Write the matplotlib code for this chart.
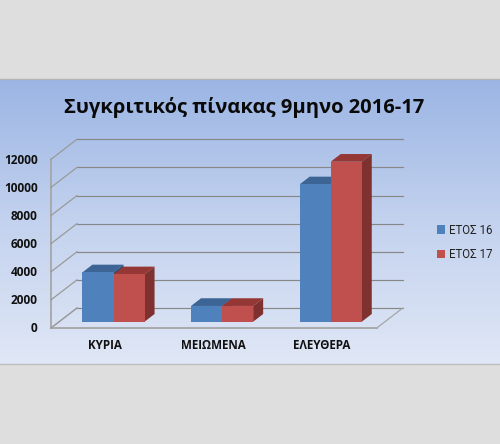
import matplotlib
matplotlib.use('Agg')
import matplotlib.pyplot as plt
from matplotlib.colors import LinearSegmentedColormap
from matplotlib.patches import Polygon
from matplotlib.transforms import Affine2D
import numpy as np

plt.rcParams['font.family'] = ['Open Sans', 'Noto Sans', 'DejaVu Sans']

title = 'Συγκριτικός πίνακας 9μηνο 2016-17'
categories = ['ΚΥΡΙΑ', 'ΜΕΙΩΜΕΝΑ', 'ΕΛΕΥΘΕΡΑ']
etos_16 = [3510, 1120, 9770]
etos_17 = [3370, 1120, 11380]
y_ticks = [0, 2000, 4000, 6000, 8000, 10000, 12000]

W, H = 500, 444
fig = plt.figure(figsize=(W / 100, H / 100), dpi=100, facecolor='#dedede')

# slide band with the vertical gradient
bg = fig.add_axes([0, (H - 364) / H, 1, (364 - 79) / H])
cmap = LinearSegmentedColormap.from_list('band', ['#9bb5e4', '#c3d2ee', '#e0e7f6'])
bg.imshow(np.linspace(0, 1, 256).reshape(-1, 1), aspect='auto', cmap=cmap)
bg.axis('off')
fig.add_artist(plt.Line2D([0, 1], [(H - 79) / H] * 2, color='#b4b4b4', lw=1.0))
fig.add_artist(plt.Line2D([0, 1], [(H - 364) / H] * 2, color='#bdbdbd', lw=1.0))

# axes sits on the plane of the bar fronts, walls are offset from it
ax = fig.add_axes([59.2 / W, (H - 321.7) / H, 325.8 / W, 168.7 / H])
ax.set_xlim(-0.5, 2.5)
ax.set_ylim(0, 12000)
ax.axis('off')


def shifted(dx, dy):
    return ax.transData + Affine2D().translate(dx, dy)


front = shifted(-8.2, -6.3)
back = shifted(17.8, 13.7)
bar_depth = shifted(10, 7.7)
grid_color = '#878787'

# floor
ax.plot([-0.5, 2.5], [0, 0], transform=front, color='#a6a6a6', lw=1.3, clip_on=False, zorder=1)
for x in [-0.5, 2.5]:
    p0 = front.transform((x, 0))
    p1 = back.transform((x, 0))
    fig.add_artist(plt.Line2D([p0[0] / W, p1[0] / W], [p0[1] / H, p1[1] / H],
                              color='#a6a6a6', lw=0.9))

# gridlines on back wall and side wall
for t in y_ticks:
    ax.plot([-0.5, 2.5], [t, t], transform=back, color=grid_color, lw=0.85, clip_on=False, zorder=1)
    p0 = front.transform((-0.5, t))
    p1 = back.transform((-0.5, t))
    fig.add_artist(plt.Line2D([p0[0] / W, p1[0] / W], [p0[1] / H, p1[1] / H],
                              color='#9a9a9a', lw=0.9))
    ax.text(-0.5, t, str(t), transform=shifted(-21.5, -7.3), ha='right', va='center',
            fontsize=8.6, fontweight='bold', color='#111111', clip_on=False)
ax.plot([-0.5, -0.5], [0, 12000], transform=front, color='#a6a6a6', lw=1.3, clip_on=False, zorder=1)

x = np.arange(len(categories))
bar_w = 0.286


def depth_faces(left, value, top_color, side_color, z):
    right = left + bar_w
    pts_top = [(left, value), (right, value)]
    p = ax.transData.transform(pts_top)
    p2 = bar_depth.transform(pts_top)
    inv = ax.transData.inverted()
    top = inv.transform([p[0], p[1], p2[1], p2[0]])
    bottom = ax.transData.transform((right, 0))
    bottom2 = bar_depth.transform((right, 0))
    side = inv.transform([p[1], p2[1], bottom2, bottom])
    ax.add_patch(Polygon(top, closed=True, fc=top_color, ec='none', zorder=z, clip_on=False))
    ax.add_patch(Polygon(side, closed=True, fc=side_color, ec='none', zorder=z, clip_on=False))


for i in x:
    depth_faces(i - bar_w, etos_16[i], '#3c6494', '#2f4f75', 2)
    depth_faces(i, etos_17[i], '#943735', '#7e312f', 3)

b16 = ax.bar(x - bar_w / 2, etos_16, bar_w, color='#4f81bd', zorder=4, label='ΕΤΟΣ 16')
b17 = ax.bar(x + bar_w / 2, etos_17, bar_w, color='#c0504d', zorder=5, label='ΕΤΟΣ 17')

for i, c in zip(x, categories):
    ax.text(i, 0, c, transform=shifted(-8.8, -23.5), ha='center', va='center',
            fontsize=8.4, fontweight='bold', color='#111111', clip_on=False)

fig.text(244.5 / W, (H - 107.5) / H, title, ha='center', va='center',
         fontsize=14.5, fontweight='bold', color='#0a0a0a')

leg = fig.legend(handles=[b16, b17], loc='center left', bbox_to_anchor=(436.5 / W, (H - 242.5) / H),
                 frameon=False, handlelength=0.75, handleheight=0.75,
                 handletextpad=0.35, labelspacing=1.0, borderpad=0, borderaxespad=0,
                 prop={'family': 'Roboto', 'size': 8.3}, labelcolor='#222222')

fig.savefig('out.png', dpi=100, facecolor=fig.get_facecolor())
